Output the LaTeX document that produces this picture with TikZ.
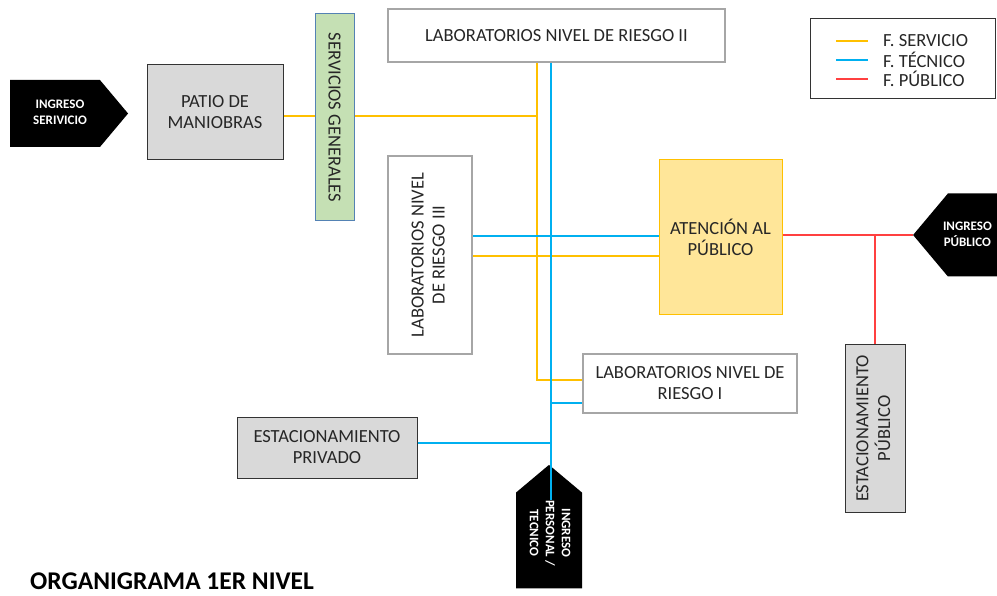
\documentclass[tikz,border=0pt]{standalone}
\usepackage{fontspec}
\setmainfont{Carlito}
\usetikzlibrary{shapes.symbols,positioning}
\definecolor{serv}{RGB}{255,192,0}
\definecolor{tec}{RGB}{0,176,240}
\definecolor{pub}{RGB}{255,64,64}
\definecolor{grisclaro}{RGB}{217,217,217}
\definecolor{verde}{RGB}{197,224,180}
\definecolor{azulgris}{RGB}{84,130,180}
\definecolor{amarillo}{RGB}{255,230,153}

\begin{document}
\begin{tikzpicture}[x=1pt, y=-1pt, font=\fontsize{18.5}{21}\selectfont, text=black!85,
  caja/.style = {draw=black!35, line width=1.5pt, fill=white, align=center, inner sep=0pt},
  gris/.style = {draw=black!80, line width=1pt, fill=grisclaro, align=center, inner sep=0pt},
  ingreso/.style = {signal, signal pointer angle=100, fill=black, text=white, align=center, inner sep=0pt, font=\fontsize{13}{16}\selectfont\bfseries},
  fserv/.style = {draw=serv, line width=2.4pt},
  ftec/.style = {draw=tec, line width=2.4pt},
  fpub/.style = {draw=pub, line width=2.4pt}]
\useasboundingbox (0,0) rectangle (997,596);

\node[ingreso, signal to=east, minimum width=118, minimum height=67] (ingserv) at (55,113.5) {\begin{tabular}{@{\hspace{10pt}}c@{}}INGRESO\\SERIVICIO\end{tabular}};
\node[gris, minimum width=136, minimum height=95] (patio) at (215,112.5) {PATIO DE\\MANIOBRAS};
\node[draw=azulgris, line width=1pt, fill=verde, inner sep=0pt, minimum width=39, minimum height=207] (servgen) at (334.5,117.5) {\rotatebox{-90}{SERVICIOS GENERALES}};
\node[caja, minimum width=337, minimum height=53] (lab2) at (556.5,35.5) {LABORATORIOS NIVEL DE RIESGO II};
\node[caja, minimum width=84, minimum height=198] (lab3) at (430,255) {\rotatebox{90}{\begin{tabular}{@{}c@{}}LABORATORIOS NIVEL\\DE RIESGO III\end{tabular}}};
\node[draw=serv, line width=1pt, fill=amarillo, align=center, inner sep=0pt, minimum width=123, minimum height=155] (atencion) at (720.5,237.5) {ATENCIÓN AL\\PÚBLICO};
\node[ingreso, signal to=west, minimum width=115, minimum height=83] (ingpub) at (988,235) {\makebox[80pt][l]{\hspace*{-5pt}\begin{tabular}{@{}c@{}}INGRESO\\PÚBLICO\end{tabular}}};
\node[caja, minimum width=214, minimum height=59] (lab1) at (690,383.5) {LABORATORIOS NIVEL DE\\RIESGO I};
\node[gris, minimum width=180, minimum height=61] (estpriv) at (327,447.5) {ESTACIONAMIENTO\\PRIVADO};
\node[ingreso, signal to=north, minimum width=66, minimum height=116] (ingpers) at (549,540.5) {\rotatebox{-90}{\begin{tabular}{@{}c@{\hspace{15pt}}}INGRESO\\PERSONAL /\\TECNICO\end{tabular}}};
\node[gris, minimum width=60, minimum height=167] (estpub) at (875,428.5) {\rotatebox{90}{\begin{tabular}{@{}c@{}}ESTACIONAMIENTO\\PÚBLICO\end{tabular}}};
\node[anchor=base west, inner sep=0pt, text=black, font=\fontsize{25.5}{30}\selectfont\bfseries] (titulo) at (30,589) {ORGANIGRAMA 1ER NIVEL};

\node[draw=black!80, line width=1pt, inner sep=0pt, minimum width=185, minimum height=80] (leyenda) at (902.5,59) {};
\foreach \y/\f/\t in {41/fserv/F. SERVICIO, 60/ftec/F. TÉCNICO, 79/fpub/F. PÚBLICO}
{
  \coordinate (m\y) at (836,\y);
  \node[anchor=west, inner sep=0pt] (ley\y) at (883,\y) {\t};
  \draw[\f] (m\y) -- ++(32,0);
}

\coordinate (sbus) at (537,116);
\coordinate (sbaja) at (537,380);
\coordinate (tbus) at (551,500);
\coordinate (tlab) at (0,236);
\coordinate (slab) at (0,256);

\draw[fserv] (patio.east |- sbus) -- (servgen.west |- sbus);
\draw[fserv] (servgen.east |- sbus) -- (sbus);
\draw[fserv] (lab2.south -| sbus) -- (sbaja) -- (lab1.west |- sbaja);
\draw[fserv] (lab3.east |- slab) -- (atencion.west |- slab);

\draw[ftec] (lab3.east |- tlab) -- (atencion.west |- tlab);
\draw[ftec] (lab2.south -| tbus) -- (tbus);
\draw[ftec] (tbus |- 0,403) -- (lab1.west |- 0,403);
\draw[ftec] (estpriv.east |- 0,443) -- (tbus |- 0,443);

\coordinate (pj) at (estpub.north |- ingpub.west);
\draw[fpub] (atencion.east |- ingpub.west) -- (ingpub.west);
\draw[fpub] (pj) -- (estpub.north);
\end{tikzpicture}
\end{document}
